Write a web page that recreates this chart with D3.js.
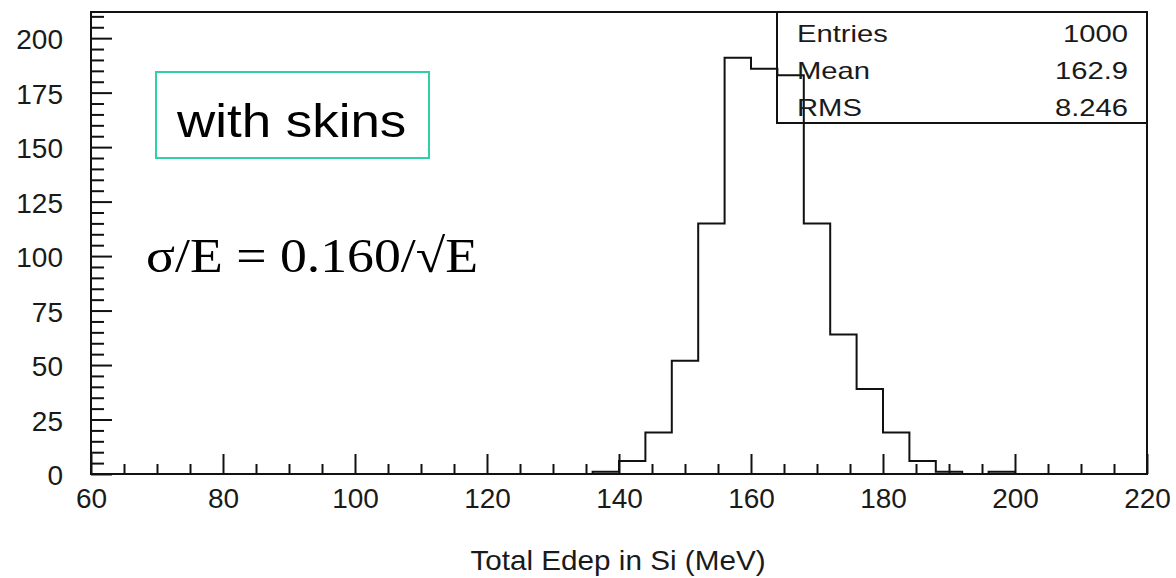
<!DOCTYPE html>
<html>
<head>
<meta charset="utf-8">
<script src="https://cdn.jsdelivr.net/npm/d3@7"></script>
<style>
    body { margin: 0; background: #fff; }
    svg { display: block; }
    .tick text { font-family: "Liberation Sans", Arial, sans-serif; font-size: 28px; fill: #1a1a1a; }
    .tick line { stroke: #111; stroke-width: 2; }
    .stats text { font-family: "Liberation Sans", Arial, sans-serif; font-size: 23px; fill: #1a1a1a; }
</style>
</head>
<body>
<svg id="chart"></svg>
<script>
// histogram bins (MeV), 4 MeV wide
const binStarts = [136, 140, 144, 148, 152, 156, 160, 164, 168, 172, 176, 180, 184, 188, 192, 196];
const binWidth = 4;
const counts = [1, 6, 19, 52, 115, 191, 186, 183, 115, 64, 39, 19, 6, 1, 0, 1];

const xTicks = [60, 80, 100, 120, 140, 160, 180, 200, 220];
const yTicks = [0, 25, 50, 75, 100, 125, 150, 175, 200];

const statsLabels = ['Entries', 'Mean', 'RMS'];
const statsValues = ['1000', '162.9', '8.246'];

const xTitle = 'Total Edep in Si (MeV)';
const noteText = 'with skins';
const resolutionText = 'σ/E = 0.160/√E';

class HistogramChart {
    constructor(_config) {
        this.config = {
            parentElement: _config.parentElement,
            width: _config.width,
            height: _config.height,
            margin: _config.margin
        };
        this.initVis();
    }

    initVis() {
        let vis = this;
        vis.width = vis.config.width - vis.config.margin.left - vis.config.margin.right;
        vis.height = vis.config.height - vis.config.margin.top - vis.config.margin.bottom;

        vis.xScale = d3.scaleLinear().domain([60, 220]).range([0, vis.width]);
        vis.yScale = d3.scaleLinear().domain([0, 212]).range([vis.height, 0]);

        vis.svg = d3.select(vis.config.parentElement)
            .attr('width', vis.config.width)
            .attr('height', vis.config.height);

        vis.chart = vis.svg.append('g')
            .attr('transform', `translate(${vis.config.margin.left},${vis.config.margin.top})`);

        // minor ticks first, majors on top
        const xMinor = d3.range(60, 221, 5).filter(d => !xTicks.includes(d));
        const yMinor = d3.range(0, 212, 5).filter(d => !yTicks.includes(d));

        vis.chart.append('g')
            .attr('transform', `translate(0,${vis.height})`)
            .call(d3.axisBottom(vis.xScale).tickValues(xMinor).tickSize(-10).tickSizeOuter(0).tickFormat(''))
            .call(g => g.select('.domain').remove());

        vis.chart.append('g')
            .call(d3.axisLeft(vis.yScale).tickValues(yMinor).tickSize(-13).tickSizeOuter(0).tickFormat(''))
            .call(g => g.select('.domain').remove());

        vis.chart.append('g')
            .attr('transform', `translate(0,${vis.height})`)
            .call(d3.axisBottom(vis.xScale).tickValues(xTicks).tickSize(-20).tickSizeOuter(0).tickPadding(14))
            .call(g => g.select('.domain').remove());

        vis.chart.append('g')
            .call(d3.axisLeft(vis.yScale).tickValues(yTicks).tickSize(-21).tickSizeOuter(0).tickPadding(28))
            .call(g => g.select('.domain').remove())
            .call(g => g.selectAll('text').attr('dy', '0.38em'));

        // frame
        vis.chart.append('rect')
            .attr('width', vis.width)
            .attr('height', vis.height)
            .attr('fill', 'none')
            .attr('stroke', '#111')
            .attr('stroke-width', 2);

        // histogram outline
        const last = binStarts[binStarts.length - 1] + binWidth;
        const points = [{x: binStarts[0], y: 0}]
            .concat(binStarts.map((s, i) => ({x: s, y: counts[i]})))
            .concat([{x: last, y: 0}]);

        const line = d3.line()
            .x(d => vis.xScale(d.x))
            .y(d => vis.yScale(d.y))
            .curve(d3.curveStepAfter);

        vis.chart.append('path')
            .datum(points)
            .attr('d', line)
            .attr('fill', 'none')
            .attr('stroke', '#111')
            .attr('stroke-width', 2);

        // stats box in the top right corner
        const stats = vis.chart.append('g').attr('class', 'stats')
            .attr('transform', `translate(${vis.width - 370},0)`);
        stats.append('rect')
            .attr('width', 370)
            .attr('height', 111)
            .attr('fill', 'none')
            .attr('stroke', '#111')
            .attr('stroke-width', 2);
        statsLabels.forEach((label, i) => {
            stats.append('text')
                .attr('transform', `translate(20,${30 + i * 37}) scale(1.27,1)`)
                .text(label);
            stats.append('text')
                .attr('transform', `translate(351,${30 + i * 37}) scale(1.27,1)`)
                .attr('text-anchor', 'end')
                .text(statsValues[i]);
        });

        // x axis title
        vis.svg.append('text')
            .attr('transform', `translate(${vis.config.margin.left + vis.width / 2 - 1},570) scale(1.06,1)`)
            .attr('text-anchor', 'middle')
            .style('font-family', '"Liberation Sans", Arial, sans-serif')
            .style('font-size', '28px')
            .style('fill', '#1a1a1a')
            .text(xTitle);

        // annotation box
        vis.svg.append('rect')
            .attr('x', 156)
            .attr('y', 72)
            .attr('width', 273)
            .attr('height', 86)
            .attr('fill', 'none')
            .attr('stroke', '#2ed0a6')
            .attr('stroke-width', 2);

        vis.svg.append('text')
            .attr('transform', 'translate(177,137) scale(1.15,1)')
            .style('font-family', '"Liberation Sans", Arial, sans-serif')
            .style('font-size', '46px')
            .style('fill', '#000')
            .text(noteText);

        vis.svg.append('text')
            .attr('transform', 'translate(146,272) scale(1.12,1)')
            .style('font-family', '"Liberation Serif", "Times New Roman", serif')
            .style('font-size', '48px')
            .style('fill', '#000')
            .text(resolutionText);
    }
}

new HistogramChart({
    parentElement: '#chart',
    width: 1176,
    height: 578,
    margin: {top: 12, right: 29, bottom: 104, left: 91}
});
</script>
</body>
</html>
